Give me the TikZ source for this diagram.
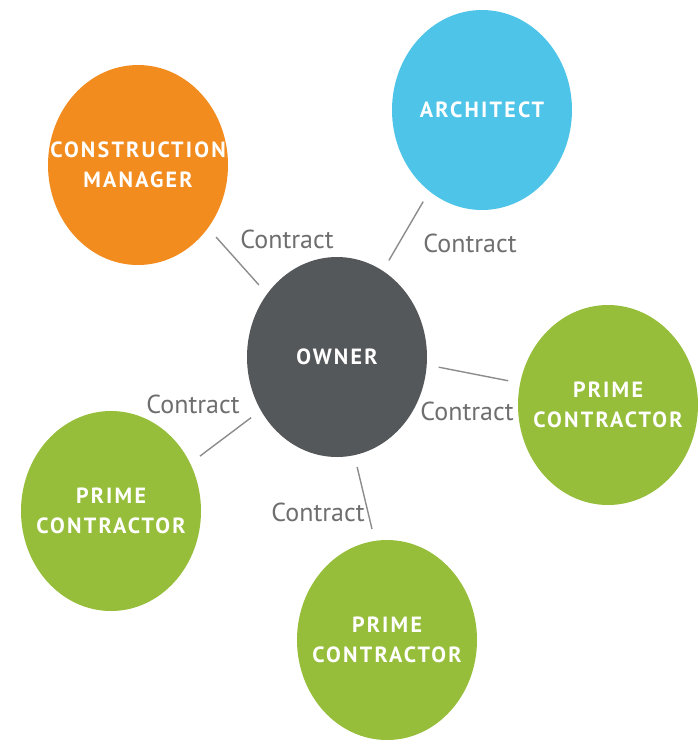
\documentclass[tikz,border=0pt]{standalone}
\usepackage{fontspec}
\setmainfont{PT Sans}
\newfontfamily\partyfont{PT Sans}[LetterSpace=10]
\usetikzlibrary{shapes.geometric}

\definecolor{cmorange}{HTML}{F28C1F}
\definecolor{archblue}{HTML}{4EC4E8}
\definecolor{ownergray}{HTML}{55585A}
\definecolor{primegreen}{HTML}{96BE3B}
\definecolor{linkgray}{HTML}{8C8C8C}
\definecolor{textgray}{HTML}{6E6E6E}

\tikzset{
party/.style={ellipse, minimum width=180pt, minimum height=200pt, inner sep=0pt},
partytext/.style={text=white, align=center, inner sep=0pt,
  font=\partyfont\bfseries\fontsize{22}{30}\selectfont},
link/.style={draw=linkgray, line width=1.4pt, shorten <=12pt, shorten >=12pt},
contract/.style={text=textgray, inner sep=0pt, font=\fontsize{26}{28}\selectfont}
}

\begin{document}
\begin{tikzpicture}[x=1pt,y=-1pt]
\useasboundingbox (0,0) rectangle (699,740);

% the parties
\node[party, fill=ownergray, label={[partytext]center:OWNER}] (owner) at (337,357) {};
\node[party, fill=cmorange, label={[partytext]center:CONSTRUCTION\\MANAGER}] (cm) at (138,165) {};
\node[party, fill=archblue, label={[partytext]center:ARCHITECT}] (arch) at (482,110) {};
\node[party, fill=primegreen, label={[partytext]center:PRIME\\CONTRACTOR}] (primeR) at (608,405) {};
\node[party, fill=primegreen, label={[partytext]center:PRIME\\CONTRACTOR}] (primeL) at (111,511) {};
\node[party, fill=primegreen, label={[partytext]center:PRIME\\CONTRACTOR}] (primeB) at (387,640) {};

% contracts
\draw[link] (owner.138) -- (cm.-42);
\draw[link] (owner.62) -- (arch.-123);
\draw[link] (owner.-5) -- (primeR.166);
\draw[link] (owner.-145) -- (primeL.31);
\draw[link] (owner.-80) -- (primeB.97);

\node[contract] (cCM) at (287,239) {Contract};
\node[contract] (cArch) at (470,243) {Contract};
\node[contract] (cR) at (467,411) {Contract};
\node[contract] (cL) at (193,404) {Contract};
\node[contract] (cB) at (318,512) {Contract};
\end{tikzpicture}
\end{document}
